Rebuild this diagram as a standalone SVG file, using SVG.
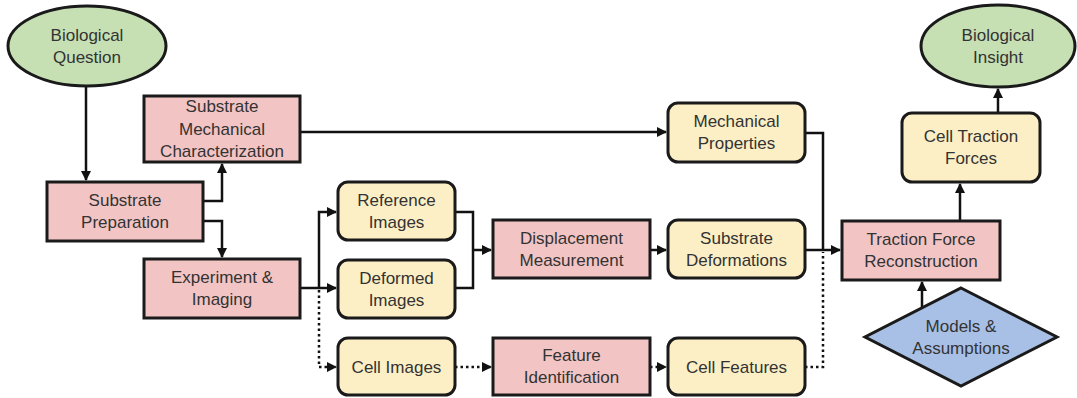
<svg xmlns="http://www.w3.org/2000/svg" width="1077" height="398" viewBox="0 0 1077 398">
  <defs>
    <marker id="arrow" viewBox="0 0 10 10" refX="9" refY="5" markerWidth="4" markerHeight="4" orient="auto" markerUnits="strokeWidth">
      <path d="M0,0 L10,5 L0,10 z" fill="#111"/>
    </marker>
  </defs>
  <style>
    .proc { fill: #f2c4c4; stroke: #1a1a1a; stroke-width: 3; }
    .data { fill: #fcefc6; stroke: #1a1a1a; stroke-width: 3; }
    .term { fill: #c6e0b4; stroke: #1a1a1a; stroke-width: 3; }
    .model { fill: #a9c0e6; stroke: #1a1a1a; stroke-width: 3; }
    text { font-family: "Liberation Sans", Arial, sans-serif; font-size: 17px; fill: #333; text-anchor: middle; }
    .edge { fill: none; stroke: #111; stroke-width: 2.5; }
    .dot { stroke-dasharray: 2.5 3; }
  </style>

  <!-- connectors -->
  <g id="connectors">
    <path class="edge" d="M86,86 V180" marker-end="url(#arrow)"/>
    <path class="edge" d="M203,201 H222 V164" marker-end="url(#arrow)"/>
    <path class="edge" d="M203,221 H222 V257" marker-end="url(#arrow)"/>
    <path class="edge" d="M300,288 H336" marker-end="url(#arrow)"/>
    <path class="edge" d="M319,288 V212 H336" marker-end="url(#arrow)"/>
    <path class="edge dot" d="M319,290 V367 H336" marker-end="url(#arrow)"/>
    <path class="edge" d="M455,212 H473 V288 H455"/>
    <path class="edge" d="M473,250 H491" marker-end="url(#arrow)"/>
    <path class="edge dot" d="M455,367 H491" marker-end="url(#arrow)"/>
    <path class="edge" d="M300,132 H666" marker-end="url(#arrow)"/>
    <path class="edge" d="M650,250 H666" marker-end="url(#arrow)"/>
    <path class="edge dot" d="M650,367 H666" marker-end="url(#arrow)"/>
    <path class="edge" d="M805,133 H823 V250"/>
    <path class="edge" d="M805,250 H840" marker-end="url(#arrow)"/>
    <path class="edge dot" d="M805,367 H823 V252"/>
    <path class="edge" d="M922,307 V282" marker-end="url(#arrow)"/>
    <path class="edge" d="M960,221 V184" marker-end="url(#arrow)"/>
    <path class="edge" d="M998,113 V89" marker-end="url(#arrow)"/>
  </g>

  <g id="biological-question">
    <ellipse class="term" cx="87" cy="46" rx="79" ry="40"/>
    <text x="87" y="41">Biological</text>
    <text x="87" y="63">Question</text>
  </g>

  <g id="substrate-mechanical-characterization">
    <rect class="proc" x="144" y="96" width="156" height="66"/>
    <text x="222" y="112">Substrate</text>
    <text x="222" y="135">Mechanical</text>
    <text x="222" y="157">Characterization</text>
  </g>

  <g id="substrate-preparation">
    <rect class="proc" x="47" y="182" width="156" height="59"/>
    <text x="125" y="206">Substrate</text>
    <text x="125" y="228">Preparation</text>
  </g>

  <g id="experiment-imaging">
    <rect class="proc" x="144" y="259" width="156" height="59"/>
    <text x="222" y="283">Experiment &amp;</text>
    <text x="222" y="305">Imaging</text>
  </g>

  <g id="reference-images">
    <rect class="data" x="338" y="182" width="117" height="58" rx="10"/>
    <text x="396.5" y="206">Reference</text>
    <text x="396.5" y="228">Images</text>
  </g>

  <g id="deformed-images">
    <rect class="data" x="338" y="260" width="117" height="58" rx="10"/>
    <text x="396.5" y="284">Deformed</text>
    <text x="396.5" y="306">Images</text>
  </g>

  <g id="cell-images">
    <rect class="data" x="338" y="338" width="117" height="57" rx="10"/>
    <text x="396.5" y="373">Cell Images</text>
  </g>

  <g id="displacement-measurement">
    <rect class="proc" x="493" y="220" width="157" height="58"/>
    <text x="571.5" y="244">Displacement</text>
    <text x="571.5" y="266">Measurement</text>
  </g>

  <g id="feature-identification">
    <rect class="proc" x="493" y="338" width="157" height="57"/>
    <text x="571.5" y="361">Feature</text>
    <text x="571.5" y="383">Identification</text>
  </g>

  <g id="mechanical-properties">
    <rect class="data" x="668" y="103" width="137" height="59" rx="10"/>
    <text x="736.5" y="127">Mechanical</text>
    <text x="736.5" y="149">Properties</text>
  </g>

  <g id="substrate-deformations">
    <rect class="data" x="668" y="220" width="137" height="58" rx="10"/>
    <text x="736.5" y="244">Substrate</text>
    <text x="736.5" y="266">Deformations</text>
  </g>

  <g id="cell-features">
    <rect class="data" x="668" y="338" width="137" height="57" rx="10"/>
    <text x="736.5" y="373">Cell Features</text>
  </g>

  <g id="traction-force-reconstruction">
    <rect class="proc" x="842" y="221" width="158" height="59"/>
    <text x="921" y="245">Traction Force</text>
    <text x="921" y="267">Reconstruction</text>
  </g>

  <g id="cell-traction-forces">
    <rect class="data" x="902" y="113" width="138" height="69" rx="10"/>
    <text x="971" y="142">Cell Traction</text>
    <text x="971" y="164">Forces</text>
  </g>

  <g id="biological-insight">
    <ellipse class="term" cx="998" cy="46" rx="77" ry="41"/>
    <text x="998" y="41">Biological</text>
    <text x="998" y="63">Insight</text>
  </g>

  <g id="models-assumptions">
    <polygon class="model" points="961,288 1057,337 961,386 865,337"/>
    <text x="961" y="332">Models &amp;</text>
    <text x="961" y="354">Assumptions</text>
  </g>
</svg>
